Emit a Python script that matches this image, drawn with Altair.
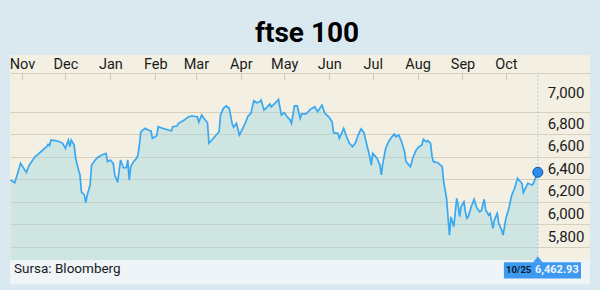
import altair as alt
import pandas as pd

# ---- data -------------------------------------------------------------------
dates = [
    "2014-10-24", "2014-10-27", "2014-10-29", "2014-10-31", "2014-11-04", "2014-11-06",
    "2014-11-10", "2014-11-12", "2014-11-14", "2014-11-18", "2014-11-19", "2014-11-20",
    "2014-11-21", "2014-11-24", "2014-11-27", "2014-11-29", "2014-12-01", "2014-12-03",
    "2014-12-04", "2014-12-05", "2014-12-07", "2014-12-08", "2014-12-10", "2014-12-11",
    "2014-12-12", "2014-12-14", "2014-12-15", "2014-12-16", "2014-12-18", "2014-12-19",
    "2014-12-21", "2014-12-23", "2014-12-26", "2014-12-29", "2014-12-30", "2015-01-01",
    "2015-01-03", "2015-01-04", "2015-01-06", "2015-01-07", "2015-01-08", "2015-01-10",
    "2015-01-12", "2015-01-13", "2015-01-14", "2015-01-15", "2015-01-17", "2015-01-19",
    "2015-01-20", "2015-01-21", "2015-01-22", "2015-01-25", "2015-01-27", "2015-01-29",
    "2015-01-30", "2015-02-02", "2015-02-03", "2015-02-06", "2015-02-10", "2015-02-12",
    "2015-02-13", "2015-02-16", "2015-02-17", "2015-02-19", "2015-02-21", "2015-02-23",
    "2015-02-24", "2015-02-26", "2015-03-02", "2015-03-03", "2015-03-05", "2015-03-07",
    "2015-03-09", "2015-03-10", "2015-03-12", "2015-03-14", "2015-03-17", "2015-03-18",
    "2015-03-20", "2015-03-22", "2015-03-24", "2015-03-26", "2015-03-27", "2015-03-29",
    "2015-03-31", "2015-04-02", "2015-04-04", "2015-04-06", "2015-04-08", "2015-04-10",
    "2015-04-12", "2015-04-14", "2015-04-15", "2015-04-17", "2015-04-19", "2015-04-21",
    "2015-04-22", "2015-04-25", "2015-04-27", "2015-04-29", "2015-05-01", "2015-05-03",
    "2015-05-05", "2015-05-06", "2015-05-08", "2015-05-10", "2015-05-12", "2015-05-13",
    "2015-05-16", "2015-05-19", "2015-05-22", "2015-05-24", "2015-05-27", "2015-05-29",
    "2015-06-01", "2015-06-03", "2015-06-04", "2015-06-07", "2015-06-08", "2015-06-11",
    "2015-06-13", "2015-06-15", "2015-06-17", "2015-06-19", "2015-06-21", "2015-06-23",
    "2015-06-25", "2015-06-27", "2015-06-29", "2015-06-30", "2015-07-01", "2015-07-04",
    "2015-07-06", "2015-07-07", "2015-07-08", "2015-07-10", "2015-07-12", "2015-07-14",
    "2015-07-16", "2015-07-17", "2015-07-19", "2015-07-21", "2015-07-23", "2015-07-24",
    "2015-07-27", "2015-07-29", "2015-07-31", "2015-08-02", "2015-08-04", "2015-08-05",
    "2015-08-07", "2015-08-08", "2015-08-10", "2015-08-11", "2015-08-12", "2015-08-15",
    "2015-08-18", "2015-08-19", "2015-08-21", "2015-08-22", "2015-08-23", "2015-08-24",
    "2015-08-26", "2015-08-28", "2015-08-29", "2015-08-30", "2015-08-31", "2015-09-02",
    "2015-09-03", "2015-09-04", "2015-09-05", "2015-09-07", "2015-09-09", "2015-09-11",
    "2015-09-13", "2015-09-14", "2015-09-16", "2015-09-17", "2015-09-19", "2015-09-20",
    "2015-09-22", "2015-09-23", "2015-09-25", "2015-09-26", "2015-09-28", "2015-09-29",
    "2015-10-01", "2015-10-03", "2015-10-05", "2015-10-07", "2015-10-09", "2015-10-10",
    "2015-10-12", "2015-10-13", "2015-10-15", "2015-10-16", "2015-10-19", "2015-10-20",
    "2015-10-21", "2015-10-23",
]
closes = [
    6394, 6370, 6454, 6542, 6462, 6527,
    6601, 6622, 6645, 6690, 6711, 6698,
    6749, 6743, 6734, 6720, 6675, 6749,
    6690, 6749, 6705, 6587, 6483, 6439,
    6290, 6261, 6193, 6261, 6350, 6527,
    6563, 6592, 6616, 6631, 6557, 6572,
    6542, 6439, 6374, 6474, 6572, 6503,
    6503, 6572, 6394, 6512, 6557, 6587,
    6616, 6705, 6823, 6853, 6838, 6829,
    6764, 6787, 6867, 6853, 6838, 6829,
    6867, 6873, 6897, 6911, 6926, 6947,
    6956, 6962, 6956, 6906, 6971, 6933,
    6902, 6720, 6749, 6778, 6823, 6971,
    7030, 7051, 7030, 6897, 6862, 6897,
    6793, 6844, 6897, 6962, 6986, 7098,
    7080, 7089, 7104, 7015, 7039, 7068,
    7044, 7080, 7110, 6971, 6991, 6956,
    6926, 6897, 7051, 7051, 6941, 6980,
    6980, 7021, 7044, 7000, 7059, 6986,
    6950, 6911, 6814, 6808, 6764, 6853,
    6778, 6720, 6690, 6720, 6793, 6848,
    6815, 6705, 6601, 6527, 6631, 6587,
    6527, 6439, 6542, 6675, 6734, 6773,
    6802, 6778, 6793, 6734, 6645, 6557,
    6512, 6601, 6660, 6690, 6705, 6755,
    6734, 6743, 6720, 6601, 6557, 6548,
    6512, 6379, 6232, 6069, 5906, 6069,
    5980, 6232, 6172, 6069, 6157, 6202,
    6113, 6055, 6069, 6157, 6223, 6143,
    6113, 6122, 6223, 6128, 6084, 6099,
    5966, 6039, 6099, 6010, 5951, 5906,
    6055, 6143, 6261, 6321, 6409, 6394,
    6365, 6282, 6335, 6365, 6350, 6365,
    6400, 6462.93,
]

title_text = "ftse 100"
source_text = "Sursa: Bloomberg"
last_date_label = "10/25"
last_value_label = "6,462.93"

month_ticks = [(2014, 11), (2014, 12)] + [(2015, m) for m in range(1, 11)]
y_ticks = [5800, 6000, 6200, 6400, 6600, 6800, 7000]
header_line_value = 7340          # faint line under the month labels
y_domain = [5685, 7503]
x_start = alt.DateTime(year=2014, month=10, date=23, hours=17, utc=True)
x_end = alt.DateTime(year=2015, month=11, date=28, utc=True)

# ---- styling -----------------------------------------------------------------
FONT = "Roboto"
BG = "#dae8f0"
PANEL = "#f3f0e3"
STRIP = "#eef4f7"
LINE = "#38a8f2"
BOX = "#3d9af0"

df = pd.DataFrame({"date": dates, "close": closes})
last = pd.DataFrame({
    "date": [dates[-1]],
    "close": [closes[-1]],
    "dlabel": [last_date_label],
    "vlabel": [last_value_label],
    "box_start": ["2015-09-29T14:00:00Z"],
    "box_end": ["2015-11-21T19:00:00Z"],
    "tdate": ["2015-10-01T00:00:00Z"],
    "tvalue": ["2015-10-21T00:00:00Z"],
})
one = pd.DataFrame({"s": [source_text]})

x_scale = alt.Scale(type="utc", domain=[x_start, x_end])
y_scale = alt.Scale(domain=y_domain, nice=False, zero=False)

x_axis = alt.Axis(
    orient="top", offset=-25, domain=False, ticks=True, tickSize=7,
    tickColor="#cdc8b8", grid=False, format="%b", labelFlush=False,
    labelOverlap=False, tickCount=40,
    values=[alt.DateTime(year=y, month=m, date=1, utc=True) for y, m in month_ticks],
    labelFont=FONT, labelFontSize=14.5, labelColor="#1a1a1a", labelPadding=2,
    title=None,
)
y_axis = alt.Axis(
    orient="right", domain=False, ticks=False, grid=True, gridColor="#d6d0bc",
    values=y_ticks + [header_line_value], format=",.0f", tickCount=40,
    labelExpr="datum.value > 7100 ? '' : datum.label",
    labelOverlap=False, labelBound=False,
    labelAlign="right", labelBaseline="alphabetic",
    labelOffset={"condition": {"test": "datum.value == 7000", "value": -14}, "value": -6},
    labelPadding=-6, labelFont=FONT, labelFontSize=15, labelColor="#1a1a1a",
    title=None,
)

X = alt.X("date:T", scale=x_scale, axis=x_axis, title=None)
Y = alt.Y("close:Q", scale=y_scale, axis=y_axis, title=None)

strip = alt.Chart(one).mark_rect(color=STRIP).encode(
    x=alt.XDatum(x_start, type="temporal", scale=x_scale),
    x2=alt.X2Datum(x_end),
    y=alt.YDatum(y_domain[0], type="quantitative", scale=y_scale),
    y2=alt.Y2Datum(5470),
)

area = alt.Chart(df).mark_area(color="#9ad6e0", opacity=0.42).encode(
    x=X, y=Y, y2=alt.Y2Datum(y_domain[0])
)
line = alt.Chart(df).mark_line(color=LINE, strokeWidth=1.7).encode(x=X, y=Y)

rule = alt.Chart(last).mark_rule(color="#9fc8ea", strokeDash=[2, 2], strokeWidth=1).encode(
    x=alt.X("date:T", title=None),
    y=alt.YDatum(7325, type="quantitative"),
    y2=alt.Y2Datum(5711),
)
box = alt.Chart(last).mark_rect(color=BOX).encode(
    x=alt.X("box_start:T", title=None),
    x2="box_end:T",
    y=alt.YDatum(5664, type="quantitative"),
    y2=alt.Y2Datum(5522),
)
pointer = alt.Chart(last).mark_point(
    shape="M-1,0.6L0,-0.6L1,0.6Z", filled=True, color=BOX, opacity=1, size=100
).encode(x=alt.X("date:T", title=None), y=alt.YDatum(5689, type="quantitative"))
t_date = alt.Chart(last).mark_text(
    align="left", baseline="middle", font=FONT, fontSize=9.5, fontWeight="bold", color="#0b1a30"
).encode(x=alt.X("tdate:T", title=None), y=alt.YDatum(5600, type="quantitative"), text="dlabel:N")
t_value = alt.Chart(last).mark_text(
    align="left", baseline="middle", font=FONT, fontSize=11, fontWeight="bold", color="#eef4ff"
).encode(x=alt.X("tvalue:T", title=None), y=alt.YDatum(5600, type="quantitative"), text="vlabel:N")
dot = alt.Chart(last).mark_point(
    shape="circle", filled=True, size=100, color="#2f8df0", stroke="#1b4f9a", strokeWidth=1, opacity=1
).encode(x=alt.X("date:T", title=None), y=alt.Y("close:Q", title=None))
source = alt.Chart(one).mark_text(
    align="left", baseline="middle", font=FONT, fontSize=13.5, color="#1a1a1a"
).encode(
    x=alt.XDatum(alt.DateTime(year=2014, month=10, date=26, hours=11, utc=True), type="temporal"),
    y=alt.YDatum(5602, type="quantitative"),
    text="s:N",
)

chart = alt.layer(
    strip, area, rule, line, box, pointer, t_date, t_value, dot, source
).properties(
    width=580,
    height=205,
    padding={"left": 10, "top": 55, "right": 10, "bottom": 30},
    autosize=alt.AutoSizeParams(type="none"),
    background=BG,
    title=alt.TitleParams(
        title_text, font=FONT, fontSize=28, fontWeight="bold", color="#000000",
        anchor="middle", dx=7, dy=-3,
    ),
).configure_view(fill=PANEL, stroke=None)

chart.save("out.html", embed_options={"renderer": "svg", "actions": False})
